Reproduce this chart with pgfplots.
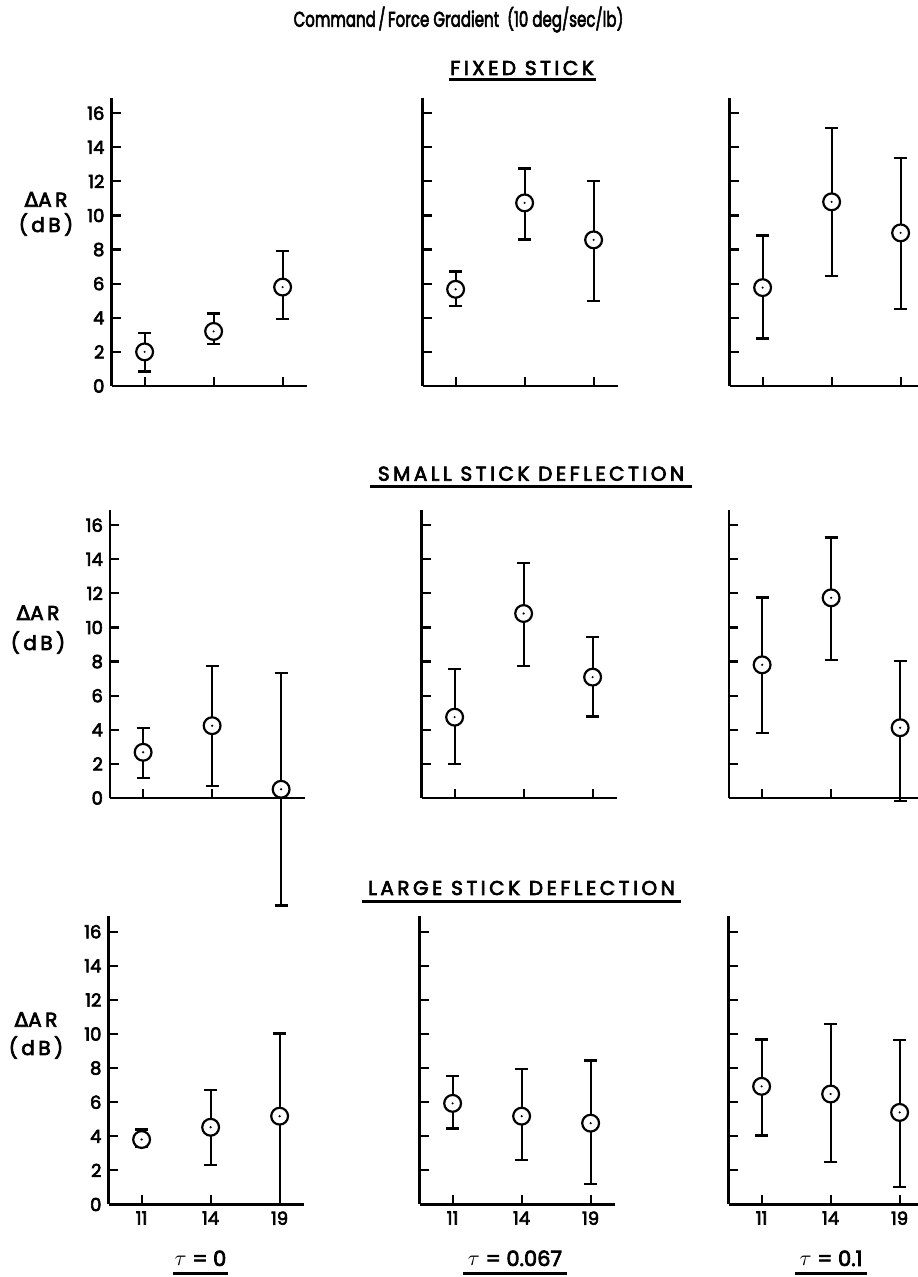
\documentclass[border=0pt]{standalone}
\usepackage{fontspec}
\setmainfont{Poppins}[FakeBold=3.5]
\newfontfamily\hv{Poppins}[FakeBold=3.5]
\newfontfamily\hvs{Poppins}[FakeBold=3.5, LetterSpace=17.5]
\newfontfamily\dejavu{DejaVu Sans}[FakeBold=3.5]
\usepackage{pgfplots}
\pgfplotsset{compat=1.18}

\pgfdeclareplotmark{odot}{%
  \pgfpathcircle{\pgfpointorigin}{\pgfplotmarksize}%
  \pgfsetfillcolor{white}%
  \pgfusepathqfillstroke
  \pgfpathcircle{\pgfpointorigin}{0.6pt}%
  \pgfsetfillcolor{black}%
  \pgfusepathqfill
}

\pgfplotsset{
  pan/.style={
    scale only axis, x=34.5pt, y=8.525pt,
    xmin=-0.48, xmax=2.35, ymin=0, ymax=16.9,
    axis x line=bottom, axis y line=left,
    axis line style={-, line width=1.1pt, black},
    tick align=inside, major tick length=4.5pt,
    tick style={line width=1.1pt, black},
    xtick={0,1,2}, ytick={0,2,...,16},
    xticklabels={}, yticklabels={},
    clip=false, anchor=south west,
    tick label style={font=\hv\fontsize{9}{10}\selectfont},
  },
  ylab/.style={yticklabels={0,2,4,6,8,10,12,14,16}},
  xlab/.style={xticklabels={11,14,19}},
  dat/.style={black, line width=1.1pt, only marks, mark=odot, mark size=4.2pt,
    error bars/.cd, y dir=both, y explicit,
    error bar style={line width=1.1pt},
    error mark options={rotate=90, line width=1.1pt, mark size=3.25pt}},
}

\begin{document}
\begin{tikzpicture}[x=0.5pt,y=0.5pt]
\useasboundingbox (0,0) rectangle (917,1277);
\coordinate (a11) at (111.5,891);
\coordinate (a12) at (422.5,891);
\coordinate (a13) at (729.5,891);
\coordinate (a21) at (110,479);
\coordinate (a22) at (421.5,479);
\coordinate (a23) at (729,479);
\coordinate (a31) at (108.5,72.5);
\coordinate (a32) at (419.5,72.5);
\coordinate (a33) at (728.5,72.5);

% ---- FIXED STICK
\begin{axis}[pan, ylab, at={(a11)}]
\addplot[dat] coordinates {(0,2.0) += (0,1.10) -= (0,1.15) (1,3.2) += (0,1.05) -= (0,0.75) (2,5.8) += (0,2.1) -= (0,1.85)};
\end{axis}
\begin{axis}[pan, at={(a12)}]
\addplot[dat] coordinates {(0,5.67) += (0,1.04) -= (0,0.99) (1,10.74) += (0,2.02) -= (0,2.15) (2,8.57) += (0,3.43) -= (0,3.58)};
\end{axis}
\begin{axis}[pan, at={(a13)}]
\addplot[dat] coordinates {(0,5.77) += (0,3.05) -= (0,2.98) (1,10.8) += (0,4.34) -= (0,4.37) (2,8.98) += (0,4.4) -= (0,4.46)};
\end{axis}

% ---- SMALL STICK DEFLECTION
\begin{axis}[pan, ylab, at={(a21)}]
\addplot[dat] coordinates {(0,2.68) += (0,1.44) -= (0,1.53) (1,4.24) += (0,3.5) -= (0,3.54) (2,0.51) += (0,6.8) -= (0,6.81)};
\end{axis}
\begin{axis}[pan, at={(a22)}]
\addplot[dat] coordinates {(0,4.74) += (0,2.84) -= (0,2.74) (1,10.82) += (0,2.98) -= (0,3.06) (2,7.09) += (0,2.37) -= (0,2.31)};
\end{axis}
\begin{axis}[pan, at={(a23)}]
\addplot[dat] coordinates {(0,7.81) += (0,3.95) -= (0,4.02) (1,11.74) += (0,3.54) -= (0,3.64) (2,4.12) += (0,3.93) -= (0,4.32)};
\end{axis}

% ---- LARGE STICK DEFLECTION
\begin{axis}[pan, ylab, xlab, at={(a31)}]
\addplot[dat] coordinates {(0,3.81) += (0,0.59) -= (0,0.44) (1,4.53) += (0,2.17) -= (0,2.23) (2,5.18) += (0,4.85) -= (0,5.18)};
\end{axis}
\begin{axis}[pan, xlab, at={(a32)}]
\addplot[dat] coordinates {(0,5.93) += (0,1.63) -= (0,1.47) (1,5.18) += (0,2.75) -= (0,2.59) (2,4.77) += (0,3.67) -= (0,3.59)};
\end{axis}
\begin{axis}[pan, xlab, at={(a33)}]
\addplot[dat] coordinates {(0,6.93) += (0,2.75) -= (0,2.88) (1,6.48) += (0,4.1) -= (0,3.99) (2,5.4) += (0,4.26) -= (0,4.36)};
\end{axis}

% ---- texts
\node[anchor=base, font=\hv\fontsize{10.6}{12}\selectfont] at (458.5,1250.3) {\scalebox{0.71}[1]{Command\,/\,Force Gradient~~(10 deg/sec/lb)}};
\node[anchor=base, font=\hvs\fontsize{10}{12}\selectfont] at (522,1202) {FIXED\ STICK};
\draw[line width=1.5pt] (449,1197) -- (596,1197);
\node[anchor=base, font=\hvs\fontsize{10}{12}\selectfont] at (531,796.3) {SMALL\ STICK\ DEFLECTION};
\draw[line width=1.5pt] (370,790.3) -- (692,790.3);
\node[anchor=base, font=\hvs\fontsize{10}{12}\selectfont] at (521.5,382) {LARGE\ STICK\ DEFLECTION};
\draw[line width=1.5pt] (362,375.3) -- (681,375.3);

\foreach \yb/\yc/\xc in {1070.3/1045/46, 657/627/38, 250.3/222/36}{
  \node[anchor=base, font=\hvs\fontsize{10}{11}\selectfont] at (\xc,\yb) {{\dejavu Δ}AR};
  \node[anchor=base, font=\hvs\fontsize{10}{11}\selectfont] at (\xc,\yc) {(dB)};
}

\node[anchor=base, font=\hv\fontsize{10.5}{12}\selectfont] at (200.5,11) {$\tau$ = 0};
\draw[line width=1.5pt] (173,3.7) -- (228,3.7);
\node[anchor=base, font=\hv\fontsize{10.5}{12}\selectfont] at (515,11) {$\tau$ = 0.067};
\draw[line width=1.5pt] (463,3.7) -- (567,3.7);
\node[anchor=base, font=\hv\fontsize{10.5}{12}\selectfont] at (831,11) {$\tau$ = 0.1};
\draw[line width=1.5pt] (795,3.7) -- (867,3.7);
\end{tikzpicture}
\end{document}
